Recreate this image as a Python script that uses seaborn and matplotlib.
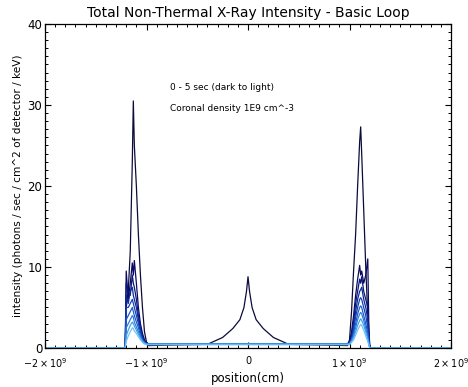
import numpy as np
import pandas as pd
import matplotlib
matplotlib.use("Agg")
import matplotlib.pyplot as plt
from matplotlib.ticker import MultipleLocator
import seaborn as sns

# positions in units of 1e9 cm
pos_e9 = [-2.0, -1.21, -1.20, -1.18, -1.16, -1.14, -1.13, -1.12, -1.10, -1.08, -1.06, -1.04, -1.02, -1.00, -0.98,
          -0.40, -0.25, -0.15, -0.08, -0.04, -0.015, 0.0, 0.015, 0.04, 0.08, 0.15, 0.25, 0.40,
          0.98, 1.00, 1.02, 1.04, 1.06, 1.08, 1.10, 1.11, 1.12, 1.14, 1.16, 1.18, 1.19, 1.20, 2.0]

# time snapshots, dark (early) to light (late)
times = ['t0', 't1', 't2', 't3', 't4', 't5', 't6', 't7', 't8']
colors = ['#0c0c3a', '#0a0a62', '#08187e', '#0b2a9c', '#1240b6', '#1a5cca', '#2a7cdc', '#429eec', '#70c2f8']

flat = [0.5] * 13
flat_lo = [0.4] * 13

intensity = {
    't0': [0, 0, 5, 7, 12, 23, 30.5, 25, 20, 14, 9, 5, 2, 0.7, 0.3,
           0.45, 1.3, 2.4, 3.5, 5.0, 7.0, 8.8, 7.0, 5.0, 3.5, 2.4, 1.3, 0.45,
           0.3, 1.0, 4.5, 9.5, 14, 20, 25.5, 27.3, 24, 17, 10, 4, 1, 0, 0],
    't1': [0, 0, 9.5, 6, 8, 10.5, 9, 10.8, 8, 5, 3, 1.8, 1.0, 0.6, 0.5] + flat +
          [0.5, 0.8, 2, 4, 6.5, 8.5, 10.2, 9, 9.5, 8, 9, 11, 3, 0, 0],
    't2': [0, 0, 8, 7, 6.5, 9, 8, 7.5, 6, 4, 2.5, 1.5, 0.9, 0.6, 0.5] + flat +
          [0.5, 0.7, 1.6, 3.2, 5.5, 7, 8.5, 8, 8.8, 7, 6, 5, 2, 0, 0],
    't3': [0, 0, 6.5, 5.5, 7, 7.5, 6.5, 6, 5, 3.5, 2.2, 1.3, 0.8, 0.6, 0.5] + flat +
          [0.5, 0.6, 1.3, 2.6, 4.5, 6, 7, 7.2, 7.5, 6, 5, 3.5, 1.5, 0, 0],
    't4': [0, 0, 5, 5, 5.5, 6, 5.5, 5, 4, 3, 2, 1.1, 0.7, 0.5, 0.5] + flat +
          [0.5, 0.6, 1.1, 2.2, 3.8, 5, 6, 6.2, 6, 5, 4, 2.5, 1, 0, 0],
    't5': [0, 0, 3.5, 4, 4.5, 5, 4.5, 4, 3.2, 2.5, 1.6, 1.0, 0.7, 0.5, 0.5] + flat +
          [0.5, 0.5, 1.0, 1.8, 3.0, 4.2, 5, 5.2, 5, 4, 3, 1.8, 0.8, 0, 0],
    't6': [0, 0, 2.5, 3, 3.5, 4, 3.8, 3.2, 2.6, 2.0, 1.4, 0.9, 0.6, 0.5, 0.5] + flat +
          [0.5, 0.5, 0.9, 1.5, 2.5, 3.5, 4.2, 4.4, 4.2, 3.4, 2.4, 1.4, 0.6, 0, 0],
    't7': [0, 0, 1.5, 2.2, 2.8, 3.2, 3.0, 2.7, 2.2, 1.7, 1.2, 0.8, 0.6, 0.5, 0.5] + flat +
          [0.5, 0.5, 0.8, 1.3, 2.0, 2.8, 3.4, 3.6, 3.4, 2.8, 2.0, 1.1, 0.5, 0, 0],
    't8': [0, 0, 0.8, 1.5, 2.0, 2.5, 2.4, 2.1, 1.8, 1.4, 1.0, 0.7, 0.5, 0.4, 0.4] + flat_lo +
          [0.4, 0.4, 0.7, 1.0, 1.6, 2.2, 2.7, 2.9, 2.8, 2.2, 1.5, 0.8, 0.4, 0, 0],
}

xtick_vals = [-2e9, -1e9, 0, 1e9, 2e9]
xtick_labels = [r'$-2\times10^{9}$', r'$-1\times10^{9}$', '0', r'$1\times10^{9}$', r'$2\times10^{9}$']

rows = []
for t in times:
    for i, (p, v) in enumerate(zip(pos_e9, intensity[t])):
        rows.append({'order': i, 'position': p * 1e9, 'intensity': v, 'time': t})
df = pd.DataFrame(rows)

sns.set_style('ticks')
plt.rcParams['font.family'] = ['DejaVu Sans']
plt.rcParams['mathtext.fontset'] = 'dejavusans'
plt.rcParams['text.color'] = 'black'
plt.rcParams['axes.labelcolor'] = 'black'
plt.rcParams['xtick.color'] = 'black'
plt.rcParams['ytick.color'] = 'black'

fig = plt.figure(figsize=(4.68, 3.87), dpi=100)
ax = fig.add_axes([0.0962, 0.1008, 0.8675, 0.8372])

sns.lineplot(data=df, x='position', y='intensity', hue='time', hue_order=times,
             palette=colors, sort=False, estimator=None, units='time',
             linewidth=0.9, legend=False, ax=ax)

ax.set_xlim(-2e9, 2e9)
ax.set_ylim(0, 40)
ax.set_xticks(xtick_vals)
ax.set_xticklabels(xtick_labels)
ax.set_yticks([0, 10, 20, 30, 40])
ax.xaxis.set_minor_locator(MultipleLocator(1e8))
ax.yaxis.set_minor_locator(MultipleLocator(1))
ax.tick_params(which='both', direction='in', top=True, right=True, color='black')
ax.tick_params(axis='y', labelsize=8.5, pad=2)
ax.tick_params(axis='x', labelsize=6.9, pad=6)
ax.tick_params(which='major', length=4.5, width=0.8)
ax.tick_params(which='minor', length=2.2, width=0.7)
for s in ax.spines.values():
    s.set_color('black')
    s.set_linewidth(0.9)

ax.set_title('Total Non-Thermal X-Ray Intensity - Basic Loop', fontsize=10, pad=5)
ax.set_xlabel('position(cm)', fontsize=8.5, labelpad=1)
ax.set_ylabel('intensity (photons / sec / cm^2 of detector / keV)', fontsize=7.6, labelpad=3)

ax.text(-0.77e9, 32.2, '0 - 5 sec (dark to light)', fontsize=6.5, va='center')
ax.text(-0.77e9, 29.6, 'Coronal density 1E9 cm^-3', fontsize=6.5, va='center')

fig.savefig('out.png', dpi=100)
